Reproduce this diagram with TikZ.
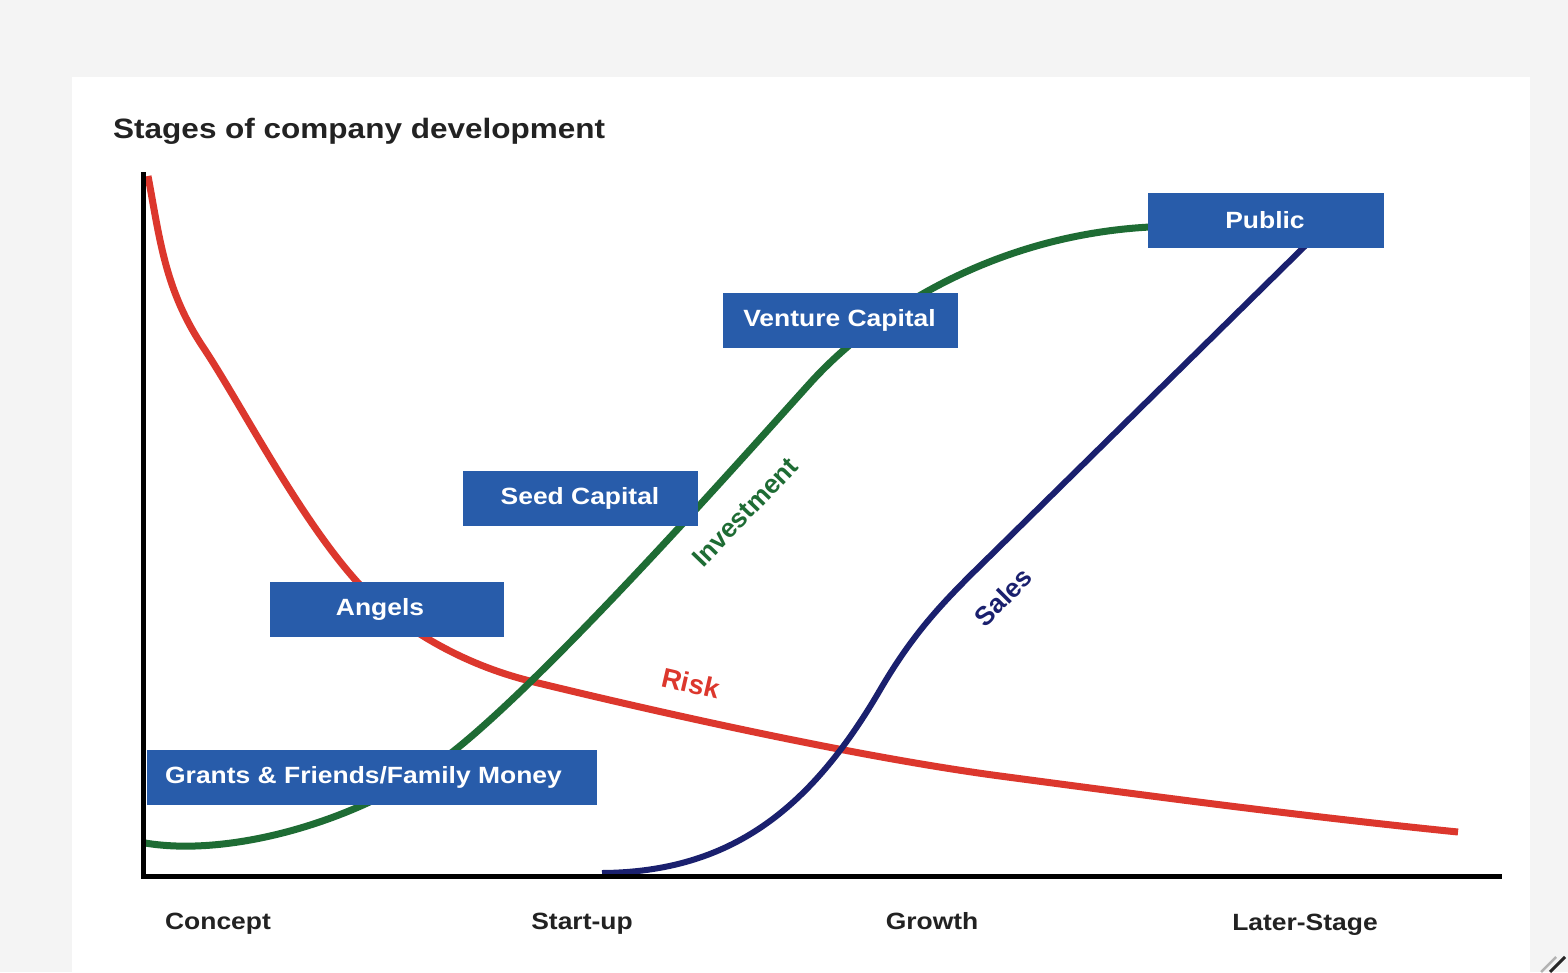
\documentclass[tikz,border=0pt]{standalone}
\usepackage{fontspec}
\setmainfont{Liberation Sans}
\definecolor{boxblue}{RGB}{40,92,170}
\definecolor{riskred}{RGB}{220,55,45}
\definecolor{invgreen}{RGB}{30,108,52}
\definecolor{salesnavy}{RGB}{26,32,110}
\definecolor{bggray}{RGB}{244,244,244}
\definecolor{txtdark}{RGB}{34,34,34}
\tikzset{
  fund/.style={fill=boxblue, draw=none, inner sep=0pt, minimum height=55pt},
  fundtext/.style={text=white, font=\bfseries\fontsize{23.5}{28}\selectfont, xscale=1.125, inner sep=0pt},
  stage/.style={text=txtdark, font=\bfseries\fontsize{23.5}{28}\selectfont, xscale=1.125, inner sep=0pt, anchor=base},
  curvelab/.style={font=\bfseries\fontsize{26.4}{30}\selectfont, inner sep=0pt},
  axisline/.style={line width=5pt, black},
  curve/.style={line width=7pt, line cap=butt}
}
\begin{document}
\begin{tikzpicture}[x=1pt,y=-1pt]
\useasboundingbox (0,0) rectangle (1568,972);
\fill[bggray] (0,0) rectangle (1568,972);
\fill[white] (72,77) rectangle (1530,972);
% title
\node[anchor=west, text=txtdark, font=\bfseries\fontsize{28}{32}\selectfont, xscale=1.125, inner sep=0pt] (title) at (113,131) {Stages of company development};
% funding boxes (drawn later, positioned here)
\coordinate (pubc) at (1266,220);
% curves
\draw[curve, riskred] (148,176) .. controls (160,240) and (165,290) .. (203,347)
  .. controls (241,404) and (300,520) .. (360,585)
  .. controls (390,618) and (450,661) .. (530,681)
  .. controls (640,708) and (850,756) .. (1000,776)
  .. controls (1150,796) and (1300,816) .. (1458,832);
\draw[curve, invgreen] (145,843) .. controls (235,858) and (370,818) .. (455,750)
  .. controls (555,670) and (745,455) .. (812,381)
  .. controls (880,307) and (1000,235) .. (1150,227);
\draw[line width=6pt, salesnavy] (602,873) .. controls (730,872) and (810,810) .. (880,690)
  .. controls (915,630) and (945,600) .. (990,556) -- (1305,246);
% axes
\coordinate (origin) at (143,876);
\coordinate (ytop) at (143,172);
\coordinate (xend) at (1502,876);
\draw[axisline] (ytop) -- (origin) -- (xend);
% funding boxes
\node[fund, minimum width=236pt] (pub) at (pubc) {};
\node[fund, minimum width=235pt] (vc) at (840.5,320.5) {};
\node[fund, minimum width=235pt] (seed) at (580.5,498.5) {};
\node[fund, minimum width=234pt] (ang) at (387,609.5) {};
\node[fund, minimum width=450pt] (grants) at (372,777.5) {};
\node[fundtext] (pubt) at (1265,220) {Public};
\node[fundtext] (vct) at (839.5,320.5) {Venture Capital};
\node[fundtext] (seedt) at (580,498.5) {Seed Capital};
\node[fundtext] (angt) at (380,609.5) {Angels};
\node[fundtext] (grantst) at (363.5,777.5) {Grants \& Friends/Family Money};
% curve labels
\node[curvelab, text=invgreen, rotate=46] (inv) at (745,512) {Investment};
\node[curvelab, text=salesnavy, rotate=45] (sales) at (1003,597) {Sales};
\node[curvelab, text=riskred, rotate=-13, font=\bfseries\fontsize{27.5}{30}\selectfont] (risk) at (691,683) {Risk};
% stage labels
\node[stage] (concept) at (218,929.5) {Concept};
\node[stage] (startup) at (582,929.5) {Start-up};
\node[stage] (growth) at (932,929.5) {Growth};
\node[stage] (later) at (1305,930) {Later-Stage};
% corner mark
\draw[line width=2.5pt, gray!60] (1541,972) -- (1556,957);
\draw[line width=3pt, black!85] (1550,972) -- (1565,957);
\end{tikzpicture}
\end{document}
